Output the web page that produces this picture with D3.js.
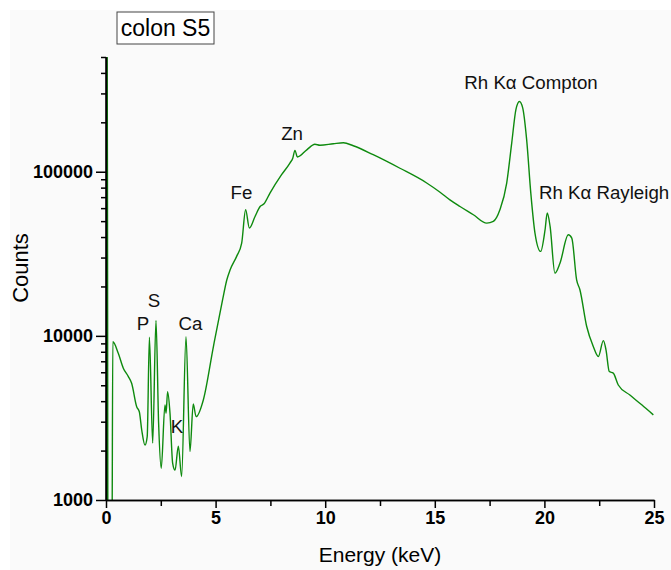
<!DOCTYPE html>
<html>
<head>
<meta charset="utf-8">
<script src="https://cdn.jsdelivr.net/npm/d3@7"></script>
<style>
  body { margin: 0; background: #fff; }
  text { font-family: "Liberation Sans", Arial, sans-serif; }
</style>
</head>
<body>
<div id="chart"></div>
<script>
// XRF spectrum, colon S5 sample (log counts vs energy)

var energy = [0.03, 0.05, 0.07, 0.09, 0.27, 0.31, 0.56, 0.79, 1.02, 1.17, 1.40, 1.52, 1.63, 1.78, 1.88,
    1.98, 2.13, 2.28, 2.40, 2.52, 2.69, 2.74, 2.81, 2.92, 3.04, 3.15, 3.30, 3.45, 3.65, 3.83,
    3.98, 4.11, 4.44, 4.90, 5.32, 5.51, 5.66, 5.96, 6.19, 6.37, 6.54, 6.80, 7.03, 7.21, 7.48,
    8.01, 8.39, 8.52, 8.62, 8.73, 9.16, 9.53, 9.76, 10.37, 10.83, 11.28, 12.19, 13.41, 14.63,
    15.24, 15.69, 16.15, 16.76, 17.37, 17.67, 17.97, 18.28, 18.51, 18.70, 18.86, 19.01, 19.19,
    19.38, 19.57, 19.83, 20.03, 20.13, 20.26, 20.48, 20.71, 21.09, 21.25, 21.47, 21.62, 21.93,
    22.23, 22.46, 22.69, 22.81, 22.96, 23.14, 23.37, 23.90, 24.44, 24.97];

var counts = [500, 900000, 40000, 400, 400, 9200, 7830, 6350, 5650, 5140, 3700, 3450, 2670, 2160, 2430,
    9820, 2220, 12400, 2940, 1560, 3800, 3380, 4570, 3380, 1680, 1520, 2130, 1390, 9900, 1970,
    3850, 3220, 4070, 8610, 16600, 21900, 25200, 30500, 36700, 58600, 45400, 53400, 61400, 63800, 74100,
    95900, 113000, 121000, 135000, 123000, 136000, 147000, 145000, 148000, 150000, 144000, 127000, 105000, 85400,
    75000, 67400, 61400, 54700, 48600, 49800, 58600, 85300, 150000, 239000, 268000, 245000, 157000,
    74100, 42300, 32700, 44300, 56000, 46400, 24100, 27700, 41300, 39400, 21900, 19100, 11400,
    8610, 7480, 9360, 8220, 6060, 5930, 5020, 4360, 3800, 3300];

// peak labels: text, energy, counts (baseline), anchor
var peakNames = ["P", "S", "K", "Ca", "Fe", "Zn", "Rh K\u03b1 Compton", "Rh K\u03b1 Rayleigh"];
var peakE = [1.69, 2.19, 3.24, 3.85, 6.18, 8.49, 19.39, 19.75];
var peakC = [10900, 15000, 2560, 10900, 68400, 157000, 321000, 68400];
var peakAnchor = ["middle", "middle", "middle", "middle", "middle", "middle", "middle", "start"];

var xMajor = [0, 5, 10, 15, 20, 25];
var xMinor = [2.5, 7.5, 12.5, 17.5, 22.5];
var yMajor = [1000, 10000, 100000];

var W = 671, H = 570;
var pLeft = 106, pRight = 654, pTop = 57, pBottom = 500;

var svg = d3.select("#chart").append("svg")
    .attr("width", W)
    .attr("height", H);

svg.append("rect")
    .attr("x", 10).attr("y", 10)
    .attr("width", W - 10).attr("height", H - 10)
    .attr("fill", "#fafafa");

var x = d3.scaleLinear().domain([0, 25]).range([pLeft, pRight]);
var y = d3.scaleLog().domain([1000, 500000]).range([pBottom, pTop]);

// minor log ticks
var yMinor = [];
[1000, 10000, 100000].forEach(function(p) {
    for (var k = 2; k <= 9; k++) {
        if (p * k <= 500000) yMinor.push(p * k);
    }
});

svg.append("defs").append("clipPath").attr("id", "plotclip")
  .append("rect")
    .attr("x", pLeft).attr("y", pTop)
    .attr("width", pRight - pLeft + 2).attr("height", pBottom - pTop);

var data = energy.map(function(e, i) { return { e: e, c: counts[i] }; });

var line = d3.line()
    .curve(d3.curveMonotoneX)
    .x(function(d) { return x(d.e); })
    .y(function(d) { return y(Math.max(d.c, 100)); });

svg.append("path")
    .datum(data)
    .attr("clip-path", "url(#plotclip)")
    .attr("d", line)
    .attr("fill", "none")
    .attr("stroke", "#0e8a0e")
    .attr("stroke-width", 1.4);

// axes
var yAxis = svg.append("g").attr("transform", "translate(" + pLeft + ",0)")
    .call(d3.axisLeft(y).tickValues(yMajor).tickFormat(d3.format("d")).tickSize(10).tickPadding(3));
var yAxisMinor = svg.append("g").attr("transform", "translate(" + pLeft + ",0)")
    .call(d3.axisLeft(y).tickValues(yMinor).tickFormat("").tickSize(5).tickSizeOuter(0));

var xAxis = svg.append("g").attr("transform", "translate(0," + pBottom + ")")
    .call(d3.axisBottom(x).tickValues(xMajor).tickFormat(d3.format("d")).tickSize(8).tickPadding(3).tickSizeOuter(0));
var xAxisMinor = svg.append("g").attr("transform", "translate(0," + pBottom + ")")
    .call(d3.axisBottom(x).tickValues(xMinor).tickFormat("").tickSize(6).tickSizeOuter(0));

[yAxis, yAxisMinor, xAxis, xAxisMinor].forEach(function(g) {
    g.selectAll("path").attr("stroke", "#000").attr("stroke-width", 1.5);
    g.selectAll("line").attr("stroke", "#000").attr("stroke-width", 1.5);
    g.selectAll("text")
        .attr("fill", "#000")
        .style("font-family", "'Liberation Sans', Arial, sans-serif")
        .style("font-size", "18px")
        .style("font-weight", "bold");
});
yAxis.select(".domain").attr("d", "M0," + pTop + "V" + pBottom);

// axis titles
svg.append("text")
    .attr("x", (pLeft + pRight) / 2)
    .attr("y", 562)
    .attr("text-anchor", "middle")
    .style("font-size", "21px")
    .text("Energy (keV)");

svg.append("text")
    .attr("transform", "translate(28," + 268 + ") rotate(-90)")
    .attr("text-anchor", "middle")
    .style("font-size", "22px")
    .text("Counts");

// peak labels
svg.selectAll(".peak")
    .data(peakNames)
  .enter().append("text")
    .attr("class", "peak")
    .attr("x", function(d, i) { return x(peakE[i]); })
    .attr("y", function(d, i) { return y(peakC[i]); })
    .attr("text-anchor", function(d, i) { return peakAnchor[i]; })
    .style("font-size", "18.7px")
    .attr("fill", "#111")
    .text(function(d) { return d; });

// sample name box
svg.append("rect")
    .attr("x", 117).attr("y", 12)
    .attr("width", 97).attr("height", 32)
    .attr("fill", "#fff")
    .attr("stroke", "#444")
    .attr("stroke-width", 1);
svg.append("text")
    .attr("x", 165.5)
    .attr("y", 36)
    .attr("text-anchor", "middle")
    .style("font-size", "23px")
    .text("colon S5");
</script>
</body>
</html>
